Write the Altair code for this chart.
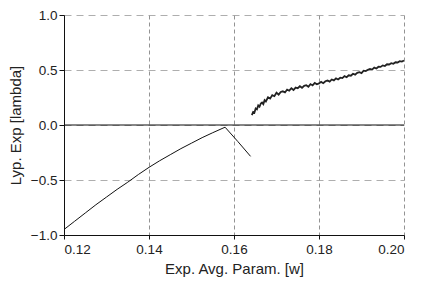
import altair as alt
import pandas as pd

# Lower (smooth) branch
low_x = [0.120, 0.1225, 0.125, 0.1275, 0.130, 0.1325, 0.135, 0.1375, 0.140, 0.1425,
         0.145, 0.1475, 0.150, 0.1525, 0.155, 0.1579, 0.1609, 0.1639]
low_y = [-0.95, -0.875, -0.80, -0.725, -0.655, -0.585, -0.52, -0.45, -0.385, -0.325,
         -0.27, -0.215, -0.165, -0.115, -0.07, -0.02, -0.15, -0.285]

# Upper (noisy) branch
up_x = [0.1642, 0.1645, 0.1648, 0.1651, 0.1654, 0.1657, 0.1660, 0.1663, 0.1666, 0.1669,
        0.1672, 0.1675, 0.1680, 0.1685, 0.1690, 0.1695, 0.1700, 0.1705, 0.1710, 0.1715,
        0.1720, 0.1725, 0.1730, 0.1735, 0.1740, 0.1745, 0.1750, 0.1755, 0.1760, 0.1765,
        0.1770, 0.1775, 0.1780, 0.1785, 0.1790, 0.1795, 0.1800, 0.1805, 0.1810, 0.1815,
        0.1820, 0.1825, 0.1830, 0.1835, 0.1840, 0.1845, 0.1850, 0.1855, 0.1860, 0.1865,
        0.1870, 0.1875, 0.1880, 0.1885, 0.1890, 0.1895, 0.1900, 0.1905, 0.1910, 0.1915,
        0.1920, 0.1925, 0.1930, 0.1935, 0.1940, 0.1945, 0.1950, 0.1955, 0.1960, 0.1965,
        0.1970, 0.1975, 0.1980, 0.1985, 0.1990, 0.1995, 0.2000]
up_y = [0.090, 0.118, 0.112, 0.150, 0.142, 0.178, 0.166, 0.195, 0.204, 0.190,
        0.226, 0.214, 0.252, 0.240, 0.272, 0.262, 0.294, 0.276, 0.300, 0.306,
        0.296, 0.322, 0.312, 0.334, 0.318, 0.340, 0.334, 0.352, 0.338, 0.356,
        0.362, 0.348, 0.372, 0.360, 0.382, 0.370, 0.378, 0.392, 0.380, 0.398,
        0.404, 0.394, 0.414, 0.406, 0.424, 0.414, 0.430, 0.426, 0.444, 0.434,
        0.452, 0.448, 0.466, 0.458, 0.474, 0.480, 0.472, 0.494, 0.490, 0.502,
        0.510, 0.504, 0.522, 0.514, 0.530, 0.528, 0.542, 0.536, 0.552, 0.550,
        0.562, 0.556, 0.570, 0.568, 0.580, 0.576, 0.586]

x_ticks = [0.12, 0.14, 0.16, 0.18, 0.20]
y_ticks = [-1.0, -0.5, 0.0, 0.5, 1.0]

low_df = pd.DataFrame({"x": low_x, "y": low_y})
up_df = pd.DataFrame({"x": up_x, "y": up_y})

FONT = "Liberation Sans"

xenc = alt.X("x:Q", scale=alt.Scale(domain=[0.12, 0.20], nice=False),
             axis=alt.Axis(title="Exp. Avg. Param. [w]", values=x_ticks, format=".2f",
                           grid=True, gridColor="#777", gridDash=[4, 3], gridWidth=0.8,
                           domainColor="#111", tickColor="#111", tickSize=4,
                           labelFont=FONT, titleFont=FONT, labelFontSize=13.5, titleFontSize=15,
                           titleFontWeight="normal", labelColor="#222", titleColor="#222",
                           labelPadding=3, titlePadding=6))
yenc = alt.Y("y:Q", scale=alt.Scale(domain=[-1.0, 1.0], nice=False),
             axis=alt.Axis(title="Lyp. Exp [lambda]", values=y_ticks, format=".1f",
                           grid=True, gridColor="#999", gridDash=[7, 5], gridWidth=0.8,
                           domainColor="#111", tickColor="#111", tickSize=5,
                           labelFont=FONT, titleFont=FONT, labelFontSize=13.5, titleFontSize=15,
                           titleFontWeight="normal", labelColor="#222", titleColor="#222",
                           labelPadding=2, titlePadding=7))

low = alt.Chart(low_df).mark_line(color="#111", strokeWidth=1).encode(x=xenc, y=yenc)
up = alt.Chart(up_df).mark_line(color="#222", strokeWidth=1.8).encode(x="x:Q", y="y:Q")
zero = alt.Chart(pd.DataFrame({"y": [0.0]})).mark_rule(color="#111", strokeWidth=1.2).encode(y="y:Q")

chart = alt.layer(zero, low, up).properties(
    width=340, height=220,
    autosize=alt.AutoSizeParams(type="none"),
    padding={"left": 56, "top": 7, "right": 14, "bottom": 48},
).configure_view(stroke=None)

chart.save("out.html", embed_options={"renderer": "svg", "actions": False})
